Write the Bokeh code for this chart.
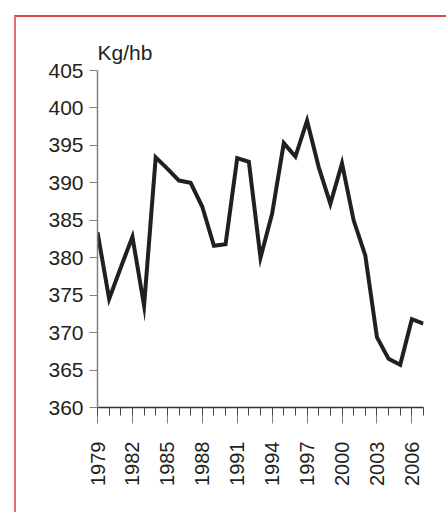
import math
from bokeh.plotting import figure
from bokeh.models import FixedTicker, InlineStyleSheet
from bokeh.embed import file_html
from bokeh.resources import INLINE

years = list(range(1979, 2008))
values = [383.4, 374.5, 378.7, 382.8, 373.6, 393.4, 391.9, 390.3, 390.0, 386.8,
          381.6, 381.8, 393.3, 392.8, 380.0, 385.9, 395.3, 393.5, 398.3, 392.1,
          387.2, 392.6, 385.0, 380.3, 369.4, 366.5, 365.7, 371.8, 371.2]
x_major = list(range(1979, 2007, 3))
y_ticks = list(range(360, 406, 5))
unit_label = "Kg/hb"

FONT = "Liberation Sans"
TXT = "#231f20"

p = figure(width=438, height=504, output_backend="svg", toolbar_location=None,
           x_range=(1979, 2007), y_range=(360, 405),
           min_border_left=97, min_border_right=15, min_border_top=70, min_border_bottom=97)
p.outline_line_color = None
p.xgrid.visible = False
p.ygrid.visible = False
p.background_fill_color = "white"
p.border_fill_color = "white"

p.title.text = unit_label
p.title.align = "left"
p.title.text_font = FONT
p.title.text_font_size = "21px"
p.title.text_font_style = "normal"
p.title.text_color = TXT
p.title.standoff = 13
p.title.offset = 0

p.line(years, values, line_width=4, color=TXT, line_join="miter")

xa = p.xaxis[0]
xa.ticker = FixedTicker(ticks=x_major, minor_ticks=years)
xa.major_label_orientation = math.pi / 2
xa.major_tick_out = 16
xa.major_tick_in = 0
xa.minor_tick_out = 8
xa.minor_tick_in = 0
xa.axis_line_color = "#333333"
xa.axis_line_width = 1.5
xa.major_tick_line_color = "#808080"
xa.minor_tick_line_color = "#444444"
xa.major_label_text_font = FONT
xa.major_label_text_font_size = "20px"
xa.major_label_text_color = TXT
xa.major_label_standoff = 18

ya = p.yaxis[0]
ya.ticker = FixedTicker(ticks=y_ticks)
ya.major_tick_out = 8
ya.major_tick_in = 0
ya.minor_tick_line_color = None
ya.axis_line_color = "#808080"
ya.axis_line_width = 1.5
ya.major_tick_line_color = "#808080"
ya.major_label_text_font = FONT
ya.major_label_text_font_size = "21px"
ya.major_label_text_color = TXT
ya.major_label_standoff = 6

p.stylesheets = [InlineStyleSheet(css="""
:host { position: relative; }
:host::after { content: ''; position: absolute; left: 14px; top: 15px; right: -10px; bottom: -10px;
  border-left: 2px solid #e07070; border-top: 2px solid #d94a4a; pointer-events: none; }
""")]

open("out.html", "w").write(file_html(p, INLINE))
